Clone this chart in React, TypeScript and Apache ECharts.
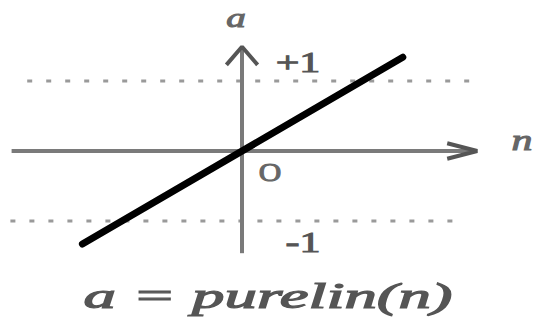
import React, { useEffect, useRef } from "react";
import * as echarts from "echarts";

// purelin: a = n
const lineN = [-1.33, 1.34];
const nAxis = [-1.92, 1.96];
const aAxis = [-1.46, 1.49];
const upperDash = [-1.79, 1.9];
const lowerDash = [-1.93, 1.82];
const levelLabels = ["+1", "-1"];
const originLabel = "O";
const formula = "a = purelin(n)";

export default function App() {
  const ref = useRef<HTMLDivElement>(null);
  useEffect(() => {
    const chart = echarts.init(ref.current!, null, { renderer: "svg" });
    const axisStyle = { color: "#7a7a7a", width: 4 };
    const mk = (name: string, data: number[][], style: any, z = 2) => ({
      type: "line",
      name,
      data,
      symbol: "none",
      lineStyle: style,
      z,
      silent: true,
    });
    const txt = (text: string, x: number, y: number, size: number, sx: number, italic: boolean, sw: number, fill: string) => ({
      type: "text",
      x,
      y,
      scaleX: sx,
      style: {
        text,
        fontFamily: "Liberation Serif",
        fontSize: size,
        fontStyle: italic ? "italic" : "normal",
        fill,
        stroke: fill,
        lineWidth: sw,
        align: "center",
        verticalAlign: "middle",
      },
    });
    chart.setOption({
      animation: false,
      backgroundColor: "#fff",
      grid: { left: 2, width: 540, top: 11, height: 280 },
      xAxis: { type: "value", min: -2, max: 2.5, show: false },
      yAxis: { type: "value", min: -2, max: 2, show: false },
      series: [
        mk("upper", upperDash.map((n) => [n, 1]), { color: "#9a9a9a", width: 3, type: [5, 14] }, 1),
        mk("lower", lowerDash.map((n) => [n, -1]), { color: "#9a9a9a", width: 3, type: [5, 14] }, 1),
        mk("nAxis", nAxis.map((n) => [n, 0]), axisStyle),
        mk("aAxis", aAxis.map((a) => [0, a]), axisStyle),
        mk("nArrow", [[1.71, 0.11], [nAxis[1], 0], [1.71, -0.11]], { color: "#555", width: 4 }),
        mk("aArrow", [[-0.13, 1.23], [0, aAxis[1]], [0.13, 1.23]], { color: "#555", width: 4 }),
        mk("purelin", lineN.map((n) => [n, n]), { color: "#000", width: 7, cap: "round" }, 3),
      ],
      graphic: [
        txt("a", 236, 18, 28, 1.4, true, 1, "#666"),
        txt("n", 522, 140, 30, 1.4, true, 1, "#666"),
        txt(levelLabels[0], 298, 62, 30, 1.4, false, 1, "#555"),
        txt(levelLabels[1], 303, 242, 30, 1.4, false, 1, "#555"),
        txt(originLabel, 270, 172, 26, 1.2, false, 1, "#666"),
        txt(formula, 268, 296, 36, 1.8, true, 1.2, "#555"),
      ],
    });
    return () => chart.dispose();
  }, []);
  return (
    <div
      ref={ref}
      style={{ position: "fixed", left: 0, top: 0, width: 547, height: 322 }}
    />
  );
}
